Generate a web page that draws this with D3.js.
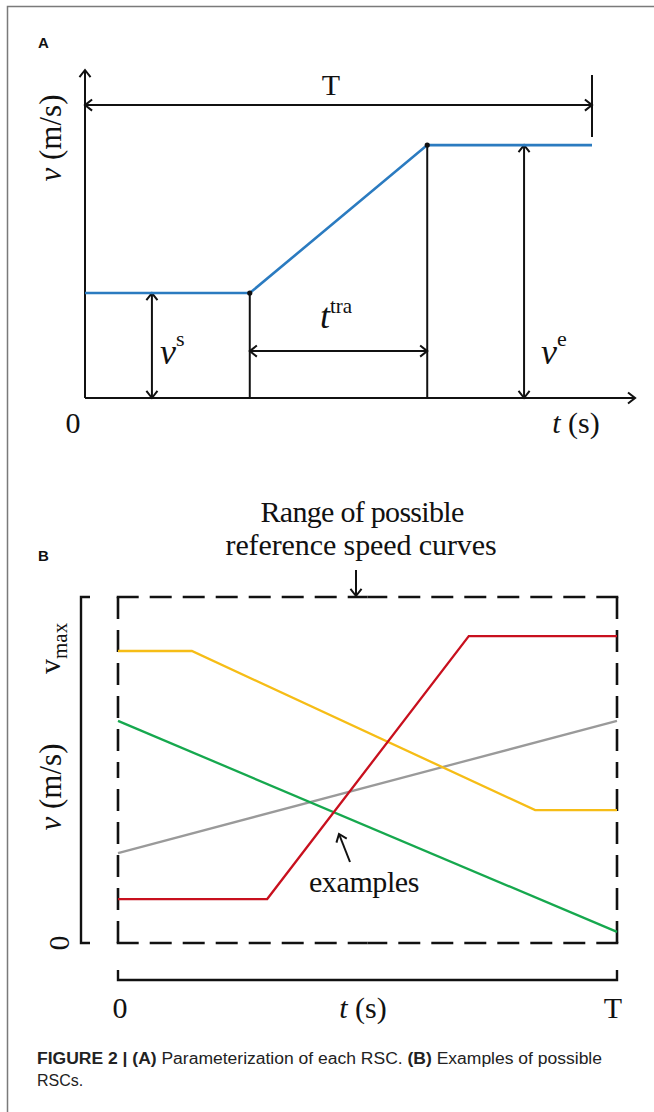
<!DOCTYPE html>
<html><head><meta charset="utf-8">
<script src="https://cdn.jsdelivr.net/npm/d3@7"></script>
<style>
html,body{margin:0;padding:0;background:#fff;}
svg{display:block;}
.serif{font-family:"Liberation Serif","Times New Roman",serif;fill:#111;}
</style></head>
<body>
<svg id="chart" width="654" height="1112"></svg>
<script>
// ---------- DATA ----------
// Panel A : one reference speed curve (time as fraction of T, speed as fraction of axis height)
const rscTime  = [0, 0.325, 0.675, 1];
const rscSpeed = [0.32, 0.32, 0.771, 0.771];
// Panel B : example RSCs (time as fraction of T, speed as fraction of v_max)
const yellowTime = [0, 0.148, 0.836, 1];
const yellowSpeed = [0.844, 0.844, 0.384, 0.384];
const redTime = [0, 0.299, 0.703, 1];
const redSpeed = [0.127, 0.127, 0.887, 0.887];
const greenTime = [0, 1];
const greenSpeed = [0.642, 0.032];
const grayTime = [0, 1];
const graySpeed = [0.26, 0.642];
const seriesColors = ["#f6bd16", "#c8101e", "#16a84e", "#9a9a9a"];
const tickLabelsB = ["0", "T"];

const svg = d3.select("#chart");

// frame
svg.append("path").attr("d","M7.5,1112 L7.5,6.5 L654,6.5").attr("fill","none")
  .attr("stroke","#7a7a7a").attr("stroke-width",1.5);

function chevron(g, x, y, angleDeg, len=9, spread=38, sw=2) {
  const a = angleDeg*Math.PI/180;
  const pts = [spread, -spread].map(s => {
    const b = a + Math.PI + s*Math.PI/180;
    return [x + len*Math.cos(b), y + len*Math.sin(b)];
  });
  g.append("path")
    .attr("d", `M${pts[0][0]},${pts[0][1]} L${x},${y} L${pts[1][0]},${pts[1][1]}`)
    .attr("fill","none").attr("stroke","#111").attr("stroke-width",sw)
    .attr("stroke-linejoin","miter");
}
function seg(g, x1,y1,x2,y2, sw=2, color="#111") {
  g.append("line").attr("x1",x1).attr("y1",y1).attr("x2",x2).attr("y2",y2)
    .attr("stroke",color).attr("stroke-width",sw);
}

// ================= PANEL A =================
const gA = svg.append("g");
const xA = d3.scaleLinear().domain([0,1]).range([85, 592]);
const yA = d3.scaleLinear().domain([0,1]).range([398, 70]);

gA.append("text").attr("x",38).attr("y",48).text("A")
  .attr("font-family","Liberation Sans, Arial, sans-serif").attr("font-weight","bold")
  .attr("font-size",15).attr("fill","#111");

// axes
seg(gA, xA(0), yA(0), xA(0), yA(1));
chevron(gA, xA(0), yA(1), -90);
seg(gA, xA(0), yA(0), xA(1.085), yA(0));
chevron(gA, xA(1.085), yA(0), 0);

// T span
seg(gA, xA(0), yA(0.893), xA(1), yA(0.893));
chevron(gA, xA(0), yA(0.893), 180);
chevron(gA, xA(1), yA(0.893), 0);
seg(gA, xA(1), yA(0.985), xA(1), yA(0.796));
gA.append("text").attr("class","serif").attr("x",xA(0.485)).attr("y",95)
  .attr("text-anchor","middle").attr("font-size",30).text("T");

// vertical drop lines at knees
seg(gA, xA(rscTime[1]), yA(0), xA(rscTime[1]), yA(rscSpeed[1]));
seg(gA, xA(rscTime[2]), yA(0), xA(rscTime[2]), yA(rscSpeed[2]));

// v^s arrow
seg(gA, xA(0.132), yA(0), xA(0.132), yA(rscSpeed[0]));
chevron(gA, xA(0.132), yA(0), 90);
chevron(gA, xA(0.132), yA(rscSpeed[0]), -90);
// v^e arrow
seg(gA, xA(0.866), yA(0), xA(0.866), yA(rscSpeed[3]));
chevron(gA, xA(0.866), yA(0), 90);
chevron(gA, xA(0.866), yA(rscSpeed[3]), -90);
// t^tra arrow
seg(gA, xA(rscTime[1]), yA(0.143), xA(rscTime[2]), yA(0.143));
chevron(gA, xA(rscTime[1]), yA(0.143), 180);
chevron(gA, xA(rscTime[2]), yA(0.143), 0);

// blue RSC
const lineA = d3.line().x(d=>xA(d[0])).y(d=>yA(d[1]));
gA.append("path").attr("d", lineA(d3.zip(rscTime, rscSpeed)))
  .attr("fill","none").attr("stroke","#2b7bc0").attr("stroke-width",2.6);
[1,2].forEach(i => gA.append("circle").attr("cx",xA(rscTime[i])).attr("cy",yA(rscSpeed[i]))
  .attr("r",2.6).attr("fill","#111"));

// labels A
gA.append("text").attr("class","serif").attr("x",73).attr("y",433)
  .attr("text-anchor","middle").attr("font-size",30).text("0");
const ts = gA.append("text").attr("class","serif").attr("x",576).attr("y",433)
  .attr("text-anchor","middle").attr("font-size",30);
ts.append("tspan").attr("font-style","italic").text("t");
ts.append("tspan").text(" (s)");

const vA = gA.append("text").attr("class","serif")
  .attr("transform","translate(61,138) rotate(-90)")
  .attr("text-anchor","middle").attr("font-size",31);
vA.append("tspan").attr("font-style","italic").text("v");
vA.append("tspan").text(" (m/s)");

function supLabel(g, x, y, base, sup, baseSize, supSize, dy) {
  const t = g.append("text").attr("class","serif").attr("x",x).attr("y",y).attr("font-size",baseSize);
  t.append("tspan").attr("font-style","italic").text(base);
  t.append("tspan").attr("font-size",supSize).attr("dy",dy).text(sup);
}
supLabel(gA, 160, 364, "v", "s", 36, 22, -18);
supLabel(gA, 320, 328, "t", "tra", 36, 21, -15);
supLabel(gA, 541, 364, "v", "e", 36, 22, -18);

// ================= PANEL B =================
const gB = svg.append("g");
const xB = d3.scaleLinear().domain([0,1]).range([118, 617]);
const yB = d3.scaleLinear().domain([0,1]).range([943, 597]);

gB.append("text").attr("x",38).attr("y",561).text("B")
  .attr("font-family","Liberation Sans, Arial, sans-serif").attr("font-weight","bold")
  .attr("font-size",15).attr("fill","#111");

gB.append("text").attr("class","serif").attr("x",362).attr("y",522)
  .attr("text-anchor","middle").attr("font-size",30).attr("letter-spacing",-0.7).text("Range of possible");
gB.append("text").attr("class","serif").attr("x",361).attr("y",555)
  .attr("text-anchor","middle").attr("font-size",30).attr("letter-spacing",-0.1).text("reference speed curves");
seg(gB, 356, 570, 356, yB(1)-1);
chevron(gB, 356, yB(1)-1, 90);

// dashed range rectangle (drawn from each corner toward the middle)
const dash = "22,11";
function dashedSide(x1,y1,x2,y2){
  const mx=(x1+x2)/2, my=(y1+y2)/2;
  [[x1,y1],[x2,y2]].forEach(p=>{
    gB.append("line").attr("x1",p[0]).attr("y1",p[1]).attr("x2",mx).attr("y2",my)
      .attr("stroke","#111").attr("stroke-width",2.6).attr("stroke-dasharray",dash)
      .attr("stroke-linecap","butt");
  });
}
dashedSide(xB(0)-1.3, yB(1), xB(1)+1.3, yB(1));
dashedSide(xB(0)-1.3, yB(0), xB(1)+1.3, yB(0));
dashedSide(xB(0), yB(1), xB(0), yB(0));
dashedSide(xB(1), yB(1), xB(1), yB(0));

// speed bracket axis
gB.append("path").attr("d",`M90,${yB(1)} L81,${yB(1)} L81,${yB(0)} L90,${yB(0)}`)
  .attr("fill","none").attr("stroke","#111").attr("stroke-width",2.4);
// time bracket axis
gB.append("path").attr("d",`M${xB(0)},970 L${xB(0)},980 L${xB(1)},980 L${xB(1)},970`)
  .attr("fill","none").attr("stroke","#111").attr("stroke-width",2.4);

// lines
const lineB = d3.line().x(d=>xB(d[0])).y(d=>yB(d[1]));
const seriesB = [[yellowTime,yellowSpeed],[redTime,redSpeed],[greenTime,greenSpeed],[grayTime,graySpeed]];
const order = [3,2,0,1];
order.forEach(i=>{
  gB.append("path").attr("d", lineB(d3.zip(seriesB[i][0], seriesB[i][1])))
    .attr("fill","none").attr("stroke",seriesColors[i]).attr("stroke-width",2.3);
});

// examples label + arrow
gB.append("text").attr("class","serif").attr("x",364).attr("y",892)
  .attr("text-anchor","middle").attr("font-size",30).attr("letter-spacing",-0.4).text("examples");
seg(gB, 350, 862, 339, 834);
chevron(gB, 339, 834, Math.atan2(834-862, 339-350)*180/Math.PI);

// axis labels B
gB.append("text").attr("class","serif").attr("x",xB(0)+2).attr("y",1018)
  .attr("text-anchor","middle").attr("font-size",30).text(tickLabelsB[0]);
gB.append("text").attr("class","serif").attr("x",xB(1)-4).attr("y",1018)
  .attr("text-anchor","middle").attr("font-size",30).text(tickLabelsB[1]);
const tsB = gB.append("text").attr("class","serif").attr("x",363).attr("y",1018)
  .attr("text-anchor","middle").attr("font-size",30);
tsB.append("tspan").attr("font-style","italic").text("t");
tsB.append("tspan").text(" (s)");

const vB = gB.append("text").attr("class","serif")
  .attr("transform","translate(61,787) rotate(-90)")
  .attr("text-anchor","middle").attr("font-size",31);
vB.append("tspan").attr("font-style","italic").text("v");
vB.append("tspan").text(" (m/s)");

const vmax = gB.append("text").attr("class","serif")
  .attr("transform","translate(60,674) rotate(-90)").attr("font-size",30);
vmax.append("tspan").text("v");
vmax.append("tspan").attr("font-size",21).attr("dy",7).text("max");

gB.append("text").attr("class","serif")
  .attr("transform",`translate(69,${yB(0)}) rotate(-90)`)
  .attr("text-anchor","middle").attr("font-size",30).text("0");

// ================= CAPTION =================
const cap = svg.append("g").attr("font-family","Liberation Sans, Arial, sans-serif")
  .attr("font-size",16).attr("fill","#222");
const c1 = cap.append("text").attr("x",37).attr("y",1064).attr("textLength",565).attr("lengthAdjust","spacingAndGlyphs");
c1.append("tspan").attr("font-weight","bold").text("FIGURE 2 | (A)");
c1.append("tspan").text(" Parameterization of each RSC. ");
c1.append("tspan").attr("font-weight","bold").text("(B)");
c1.append("tspan").text(" Examples of possible");
cap.append("text").attr("x",37).attr("y",1086).text("RSCs.");
</script>
</body></html>
